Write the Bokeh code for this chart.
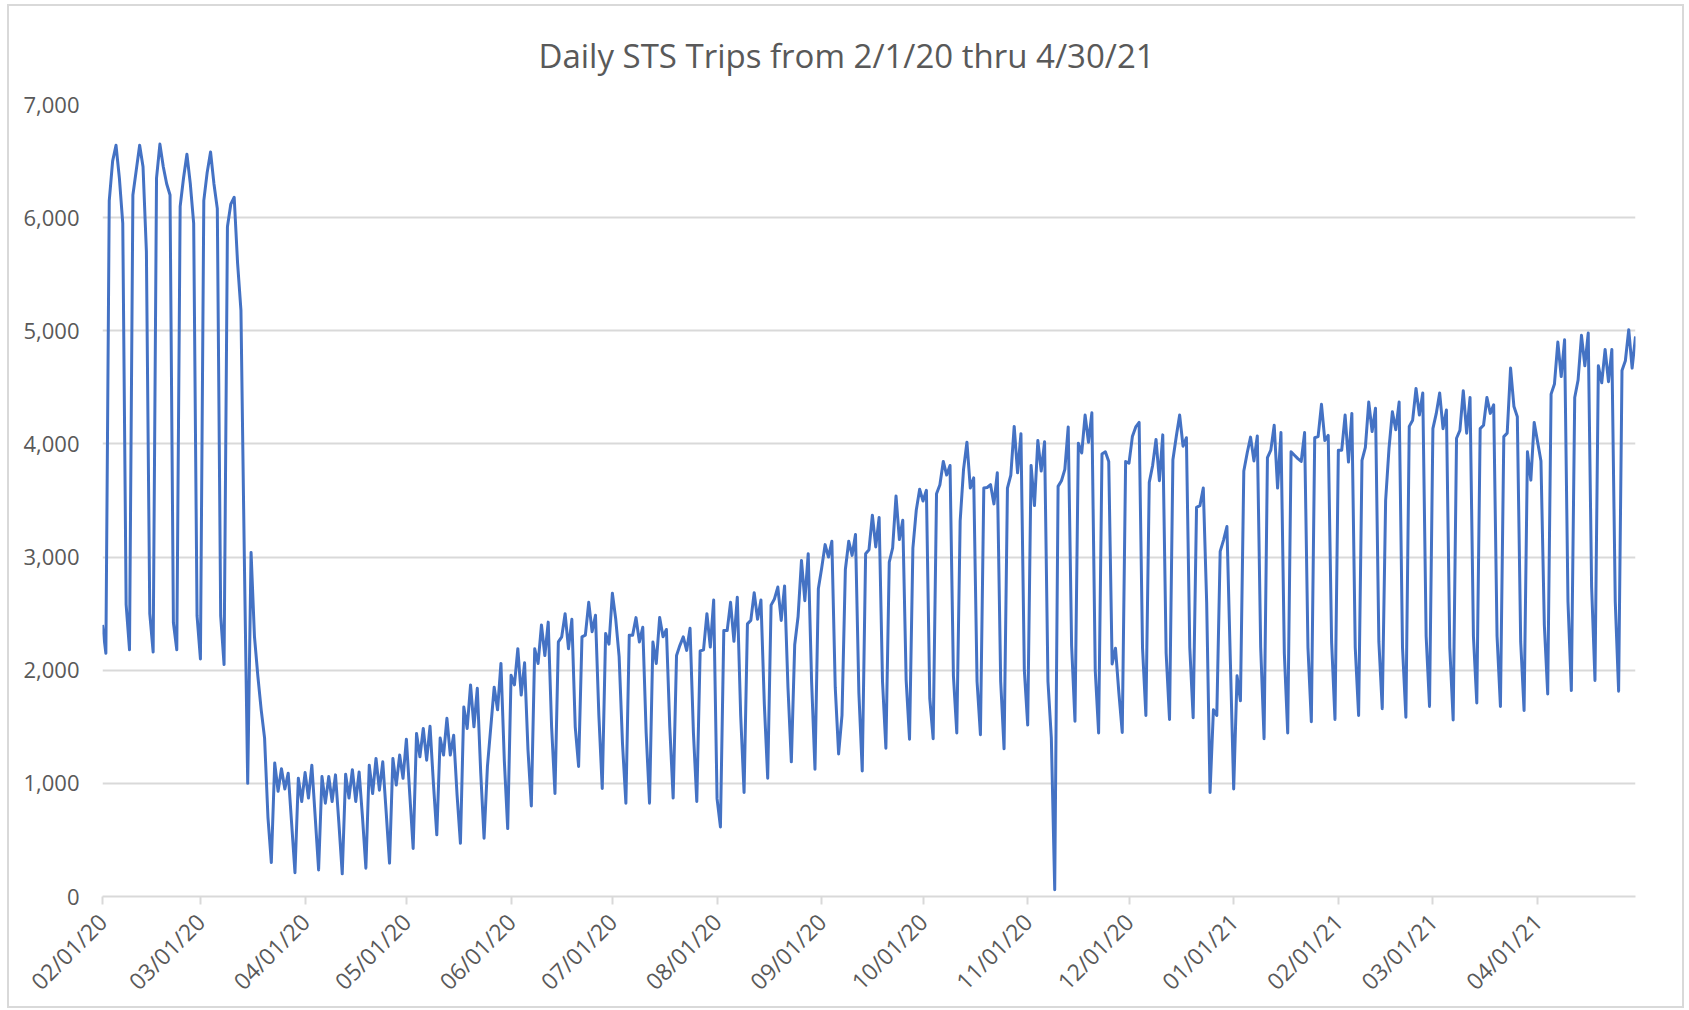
import math
import pandas as pd
from bokeh.plotting import figure
from bokeh.models import ColumnDataSource, Range1d, FixedTicker, DatetimeTickFormatter, NumeralTickFormatter
from bokeh.embed import file_html
from bokeh.resources import INLINE

# ---------------- data ----------------
start_date = "2020-02-01"   # Saturday; each row below is one week, Sat..Fri
daily_trips = [
    2400, 2150, 6150, 6500, 6640, 6350, 5950,
    2580, 2180, 6200, 6420, 6640, 6450, 5700,
    2500, 2160, 6350, 6650, 6450, 6300, 6200,
    2420, 2180, 6100, 6350, 6560, 6300, 5950,
    2480, 2100, 6150, 6400, 6580, 6300, 6080,
    2480, 2050, 5920, 6120, 6180, 5600, 5180,
    3000, 1000, 3040, 2300, 1950, 1650, 1400,
    700, 300, 1180, 930, 1130, 950, 1090,
    650, 210, 1045, 840, 1095, 870, 1160,
    700, 235, 1060, 825, 1060, 840, 1075,
    650, 200, 1080, 870, 1120, 840, 1100,
    700, 250, 1160, 910, 1220, 940, 1190,
    750, 295, 1220, 985, 1250, 1045, 1390,
    900, 425, 1440, 1235, 1485, 1205, 1505,
    1000, 545, 1400, 1250, 1575, 1250, 1425,
    900, 470, 1675, 1485, 1870, 1500, 1840,
    1100, 515, 1150, 1500, 1850, 1650, 2060,
    1200, 600, 1955, 1870, 2190, 1780, 2065,
    1300, 800, 2190, 2060, 2400, 2130, 2425,
    1500, 910, 2250, 2295, 2500, 2190, 2450,
    1500, 1150, 2295, 2310, 2600, 2340, 2485,
    1600, 955, 2325, 2230, 2680, 2450, 2120,
    1350, 825, 2310, 2310, 2465, 2250, 2380,
    1450, 825, 2250, 2060, 2465, 2295, 2360,
    1500, 870, 2130, 2220, 2295, 2175, 2370,
    1450, 840, 2170, 2180, 2500, 2205, 2620,
    865, 615, 2350, 2350, 2600, 2255, 2645,
    1600, 920, 2410, 2440, 2685, 2450, 2620,
    1700, 1045, 2575, 2630, 2735, 2440, 2745,
    1850, 1190, 2225, 2475, 2970, 2615, 3030,
    1900, 1125, 2720, 2905, 3110, 3000, 3140,
    1850, 1260, 1600, 2890, 3140, 3015, 3200,
    1800, 1110, 3030, 3065, 3370, 3090, 3350,
    1900, 1310, 2955, 3080, 3540, 3155, 3325,
    1915, 1390, 3080, 3415, 3600, 3495, 3590,
    1750, 1395, 3560, 3640, 3845, 3725, 3810,
    1950, 1445, 3320, 3775, 4015, 3610, 3700,
    1900, 1430, 3610, 3615, 3640, 3470, 3745,
    1900, 1305, 3610, 3725, 4155, 3745, 4090,
    2000, 1515, 3810, 3455, 4030, 3760, 4020,
    1900, 1400, 60, 3625, 3675, 3775, 4150,
    2220, 1550, 4005, 3920, 4255, 4015, 4275,
    2000, 1445, 3910, 3930, 3845, 2055, 2195,
    1800, 1450, 3845, 3830, 4065, 4150, 4190,
    2200, 1600, 3660, 3810, 4040, 3675, 4080,
    2150, 1565, 3860, 4065, 4255, 3980, 4055,
    2200, 1580, 3440, 3455, 3610, 2600, 920,
    1650, 1600, 3050, 3150, 3270, 2100, 950,
    1950, 1730, 3760, 3920, 4060, 3850, 4070,
    2200, 1395, 3880, 3945, 4165, 3610, 4100,
    2150, 1445, 3930, 3900, 3870, 3845, 4100,
    2200, 1545, 4055, 4065, 4350, 4030, 4075,
    2250, 1565, 3945, 3945, 4255, 3840, 4270,
    2200, 1600, 3855, 3970, 4370, 4110, 4315,
    2250, 1660, 3500, 3960, 4285, 4125, 4370,
    2200, 1585, 4155, 4210, 4490, 4255, 4450,
    2300, 1680, 4135, 4270, 4450, 4135, 4300,
    2200, 1560, 4050, 4120, 4470, 4095, 4410,
    2300, 1710, 4135, 4165, 4410, 4270, 4345,
    2300, 1680, 4065, 4095, 4670, 4330, 4240,
    2250, 1645, 3930, 3680, 4190, 4020, 3850,
    2400, 1790, 4440, 4530, 4900, 4595, 4920,
    2610, 1820, 4410, 4565, 4960, 4690, 4980,
    2740, 1910, 4690, 4540, 4835, 4550, 4835,
    2610, 1815, 4650, 4735, 5010, 4670, 4950,
]
month_ticks = ["2020-02-01", "2020-03-01", "2020-04-01", "2020-05-01", "2020-06-01",
               "2020-07-01", "2020-08-01", "2020-09-01", "2020-10-01", "2020-11-01",
               "2020-12-01", "2021-01-01", "2021-02-01", "2021-03-01", "2021-04-01"]
y_ticks = [0, 1000, 2000, 3000, 4000, 5000, 6000, 7000]
title_text = "Daily STS Trips from 2/1/20 thru 4/30/21"

# ---------------- build ----------------
dates = pd.date_range(start_date, periods=len(daily_trips), freq="D")
source = ColumnDataSource(data=dict(date=dates, trips=daily_trips))

FONT = "Open Sans"
GRAY = "#595959"
GRID = "#d9d9d9"

p = figure(width=1677, height=1004, x_axis_type="datetime",
           output_backend="svg", toolbar_location=None,
           x_range=Range1d(dates[0], dates[-1]), y_range=Range1d(0, 7000),
           min_border_left=93, min_border_right=51, min_border_top=98, min_border_bottom=109)
p.styles = {"border": "2px solid #d9d9d9", "margin-left": "7px", "margin-top": "4px"}

p.title.text = title_text
p.title.text_font = FONT
p.title.text_font_size = "33px"
p.title.text_font_style = "normal"
p.title.text_color = GRAY
p.title.align = "left"
p.title.vertical_align = "top"
p.title.offset = 436
p.title.standoff = 50

p.outline_line_color = None
p.background_fill_color = "white"
p.border_fill_color = "white"

p.line(x="date", y="trips", source=source, line_color="#4472C4", line_width=3, line_join="round")

# x axis
tick_ms = [pd.Timestamp(t).value // 10**6 for t in month_ticks]
p.xaxis.ticker = FixedTicker(ticks=tick_ms)
fmt = "%m/%d/%y"
p.xaxis.formatter = DatetimeTickFormatter(years=fmt, months=fmt, days=fmt, hours=fmt,
                                          hourmin=fmt, minutes=fmt, minsec=fmt, seconds=fmt,
                                          milliseconds=fmt, microseconds=fmt)
p.xaxis.major_label_orientation = math.pi / 4
p.xaxis.axis_line_color = GRID
p.xaxis.axis_line_width = 2
p.xaxis.major_tick_line_color = GRID
p.xaxis.major_tick_line_width = 2
p.xaxis.major_tick_out = 8
p.xaxis.major_tick_in = 0
p.xaxis.minor_tick_line_color = None
p.xaxis.major_label_text_font = FONT
p.xaxis.major_label_text_font_size = "23px"
p.xaxis.major_label_text_color = GRAY
p.xaxis.major_label_standoff = 13
p.xgrid.grid_line_color = None

# y axis
p.yaxis.ticker = FixedTicker(ticks=y_ticks)
p.yaxis.formatter = NumeralTickFormatter(format="0,0")
p.yaxis.axis_line_color = None
p.yaxis.major_tick_line_color = None
p.yaxis.minor_tick_line_color = None
p.yaxis.major_tick_out = 0
p.yaxis.major_tick_in = 0
p.yaxis.major_label_standoff = 23
p.yaxis.major_label_text_font = FONT
p.yaxis.major_label_text_font_size = "22px"
p.yaxis.major_label_text_color = GRAY
p.ygrid.ticker = FixedTicker(ticks=y_ticks)
p.ygrid.grid_line_color = GRID
p.ygrid.grid_line_width = 2

open("out.html", "w").write(file_html(p, INLINE))
